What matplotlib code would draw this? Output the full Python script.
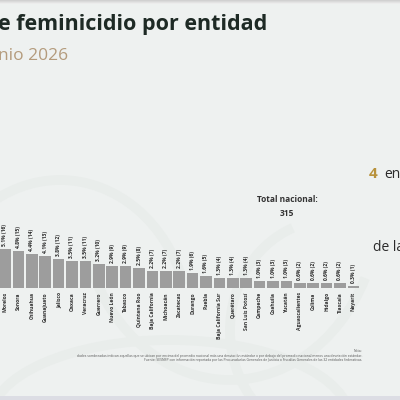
import matplotlib
matplotlib.use("Agg")
import matplotlib.pyplot as plt
from matplotlib.patches import Arc, Rectangle
import numpy as np

plt.rcParams['font.family'] = ['Open Sans', 'DejaVu Sans']

# data (visible part)
states = ['Morelos', 'Sonora', 'Chihuahua', 'Guanajuato', 'Jalisco', 'Oaxaca',
          'Veracruz', 'Guerrero', 'Nuevo León', 'Tabasco', 'Quintana Roo',
          'Baja California', 'Michoacán', 'Zacatecas', 'Durango', 'Puebla',
          'Baja California Sur', 'Querétaro', 'San Luis Potosí', 'Campeche',
          'Coahuila', 'Yucatán', 'Aguascalientes', 'Colima', 'Hidalgo',
          'Tlaxcala', 'Nayarit']
counts = [16, 15, 14, 13, 12, 11, 11, 10, 9, 9, 8, 7, 7, 7, 6, 5, 4, 4, 4,
          3, 3, 3, 2, 2, 2, 2, 1]
pcts = [5.1, 4.8, 4.4, 4.1, 3.8, 3.5, 3.5, 3.2, 2.9, 2.9, 2.5, 2.2, 2.2, 2.2,
        1.9, 1.6, 1.3, 1.3, 1.3, 1.0, 1.0, 1.0, 0.6, 0.6, 0.6, 0.6, 0.3]
total = 315

W, H = 400, 400
bg = '#eef1f0'
fig = plt.figure(figsize=(4, 4), dpi=100, facecolor=bg)

# background layer (pixel coords, y from top)
back = fig.add_axes([0, 0, 1, 1])
back.set_xlim(0, W)
back.set_ylim(H, 0)
back.axis('off')
back.set_facecolor(bg)
for (cx, cy, w, h, t1, t2) in [(60, 330, 260, 300, 200, 340), (230, 200, 300, 360, 30, 160),
                               (330, 330, 200, 220, 100, 250), (170, 420, 360, 160, 180, 360)]:
    back.add_patch(Arc((cx, cy), w, h, theta1=t1, theta2=t2, color='#e9edeb', lw=7))
for i in range(4):
    back.add_patch(Rectangle((0, i), W, 1, color=(0.82 + 0.035 * i,) * 3, lw=0))
back.add_patch(Rectangle((0, 396), W, 4, color='#dcdde4', lw=0))

# titles
fig.text(-0.004, 1 - 30 / H, 'e feminicidio por entidad', fontsize=15.5, fontweight='bold',
         color='#1e2a25', ha='left', va='baseline')
fig.text(-0.004, 1 - 60 / H, 'nio 2026', fontsize=12.5, color='#b49b7c',
         ha='left', va='baseline')

fig.text(287 / W, 1 - 200 / H, 'Total nacional:', fontsize=6, fontweight='bold',
         color='#333333', ha='center', va='center')
fig.text(287 / W, 1 - 213 / H, str(total), fontsize=6, fontweight='bold',
         color='#333333', ha='center', va='center')

fig.text(369 / W, 1 - 178 / H, '4', fontsize=11, fontweight='bold', color='#b8923c',
         ha='left', va='baseline')
fig.text(384 / W, 1 - 178 / H, 'ent', fontsize=10, color='#2b2b2b', ha='left', va='baseline')
fig.text(373 / W, 1 - 251 / H, 'de la', fontsize=10, color='#2b2b2b', ha='left', va='baseline')

# bars
step = 13.4
ax_left = (5 - 0.5 * step) / W
ax = fig.add_axes([ax_left, 112 / H, 27 * step / W, 60 / H])
ax.patch.set_alpha(0)
x = np.arange(len(states))
ax.bar(x, counts, width=0.88, color='#9d9d9d')
ax.set_xlim(-0.5, len(states) - 0.5)
ax.set_ylim(0, 60 / 2.44)
for xi, c, p in zip(x, counts, pcts):
    ax.annotate(f'{p:.1f}% ({c})', (xi, c), xytext=(0, 2.2), textcoords='offset points',
                rotation=90, ha='center', va='bottom', fontsize=3.6, fontweight='bold',
                color='#2a2a2a')
ax.set_xticks(x)
ax.set_xticklabels(states, rotation=90, fontsize=3.6, fontweight='bold', color='#333333')
ax.tick_params(axis='x', length=0, pad=3)
ax.set_yticks([])
for s in ax.spines.values():
    s.set_visible(False)

# footnote
note1 = ('dades sombreadas indican aquellas que se ubican por encima del promedio nacional más una '
         'desviación estándar o por debajo del promedio nacional menos una desviación estándar.')
note2 = ('Fuente: SESNSP con información reportada por las Procuradurías Generales de Justicia '
         'o Fiscalías Generales de las 32 entidades federativas.')
fig.text(362 / W, 1 - 352 / H, 'Nota:', fontsize=2.4, color='#555555', ha='right', va='baseline')
fig.text(362 / W, 1 - 356.5 / H, note1, fontsize=2.4, color='#555555', ha='right', va='baseline')
fig.text(362 / W, 1 - 361 / H, note2, fontsize=2.4, color='#555555', ha='right', va='baseline')

fig.savefig('out.png', dpi=100, facecolor=bg)
